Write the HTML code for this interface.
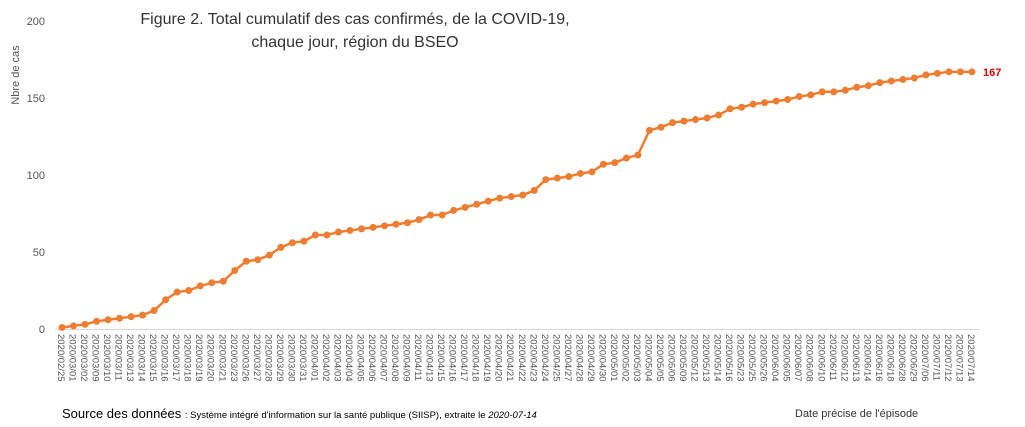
<!DOCTYPE html>
<html><head><meta charset="utf-8"><style>
body{margin:0;background:#fff;font-family:"Liberation Sans",sans-serif;}
svg text{font-family:"Liberation Sans",sans-serif;}
</style></head><body>
<svg width="1025" height="422" viewBox="0 0 1025 422">
<text x="355" y="24" text-anchor="middle" font-size="16" fill="#333">Figure 2. Total cumulatif des cas confirmés, de la COVID-19,</text>
<text x="355" y="47" text-anchor="middle" font-size="16" fill="#333">chaque jour, région du BSEO</text>
<text transform="translate(19,75) rotate(-90)" text-anchor="middle" font-size="11" fill="#555">Nbre de cas</text>
<g id="yticks"></g>
<line x1="55" y1="329.5" x2="980" y2="329.5" stroke="#d9d9d9" stroke-width="1"/>
<g id="xticks"></g>
<g id="series"></g>
<text x="62" y="418" font-size="13" fill="#000">Source des données <tspan font-size="9.5">: Système intégré d'information sur la santé publique (SIISP), extraite le <tspan font-style="italic">2020-07-14</tspan></tspan></text>
<text x="795" y="417" font-size="11" fill="#333">Date précise de l'épisode</text>
</svg>
<script>
const categories=["2020/02/25","2020/03/01","2020/03/02","2020/03/09","2020/03/10","2020/03/11","2020/03/13","2020/03/14","2020/03/15","2020/03/16","2020/03/17","2020/03/18","2020/03/19","2020/03/20","2020/03/21","2020/03/23","2020/03/26","2020/03/27","2020/03/28","2020/03/29","2020/03/30","2020/03/31","2020/04/01","2020/04/02","2020/04/03","2020/04/04","2020/04/05","2020/04/06","2020/04/07","2020/04/08","2020/04/09","2020/04/11","2020/04/13","2020/04/15","2020/04/16","2020/04/17","2020/04/18","2020/04/19","2020/04/20","2020/04/21","2020/04/22","2020/04/23","2020/04/24","2020/04/25","2020/04/27","2020/04/28","2020/04/29","2020/04/30","2020/05/01","2020/05/02","2020/05/03","2020/05/04","2020/05/05","2020/05/06","2020/05/09","2020/05/12","2020/05/13","2020/05/14","2020/05/16","2020/05/23","2020/05/25","2020/05/26","2020/06/04","2020/06/05","2020/06/07","2020/06/08","2020/06/10","2020/06/11","2020/06/12","2020/06/13","2020/06/14","2020/06/16","2020/06/18","2020/06/28","2020/06/29","2020/07/06","2020/07/11","2020/07/12","2020/07/13","2020/07/14"];
const cases=[1,2,3,5,6,7,8,9,12,19,24,25,28,30,31,38,44,45,48,53,56,57,61,61,63,64,65,66,67,68,69,71,74,74,77,79,81,83,85,86,87,90,97,98,99,101,102,107,108,111,113,129,131,134,135,136,137,139,143,144,146,147,148,149,151,152,154,154,155,157,158,160,161,162,163,165,166,167,167,167];
const yTicks=[0,50,100,150,200];
const NS="http://www.w3.org/2000/svg";
const x0=62,x1=972,y0=329,y1=21,ymax=200;
function xs(i){return x0+(x1-x0)*i/(categories.length-1);}
function ys(v){return y0-(y0-y1)*v/ymax;}
const yt=document.getElementById('yticks');
yTicks.forEach(t=>{const e=document.createElementNS(NS,'text');
e.setAttribute('x',45);e.setAttribute('y',ys(t)+4);e.setAttribute('text-anchor','end');e.setAttribute('font-size','11');e.setAttribute('fill','#555');e.textContent=t;


yt.appendChild(e);});
const xt=document.getElementById('xticks');
categories.forEach((c,i)=>{const e=document.createElementNS(NS,'text');
const x=xs(i)-4,y=334;
e.setAttribute('transform','translate('+x+','+y+') rotate(90)');e.setAttribute('font-size','9.5');e.setAttribute('fill','#555');e.textContent=c;


xt.appendChild(e);});
const g=document.getElementById('series');
const pl=document.createElementNS(NS,'polyline');
pl.setAttribute('points',cases.map((v,i)=>xs(i)+','+ys(v)).join(' '));
pl.setAttribute('fill','none');pl.setAttribute('stroke','#ed7d31');pl.setAttribute('stroke-width','2.5');


g.appendChild(pl);
cases.forEach((v,i)=>{const c=document.createElementNS(NS,'circle');
c.setAttribute('cx',xs(i));c.setAttribute('cy',ys(v));c.setAttribute('r',3.5);c.setAttribute('fill','#ed7d31');


g.appendChild(c);});
const last=cases[cases.length-1];
const lb=document.createElementNS(NS,'text');
lb.setAttribute('x',xs(cases.length-1)+11);lb.setAttribute('y',ys(last)+4);lb.setAttribute('font-size','11');lb.setAttribute('font-weight','bold');lb.setAttribute('fill','#e00000');lb.textContent=last;


g.appendChild(lb);
</script>
</body></html>
